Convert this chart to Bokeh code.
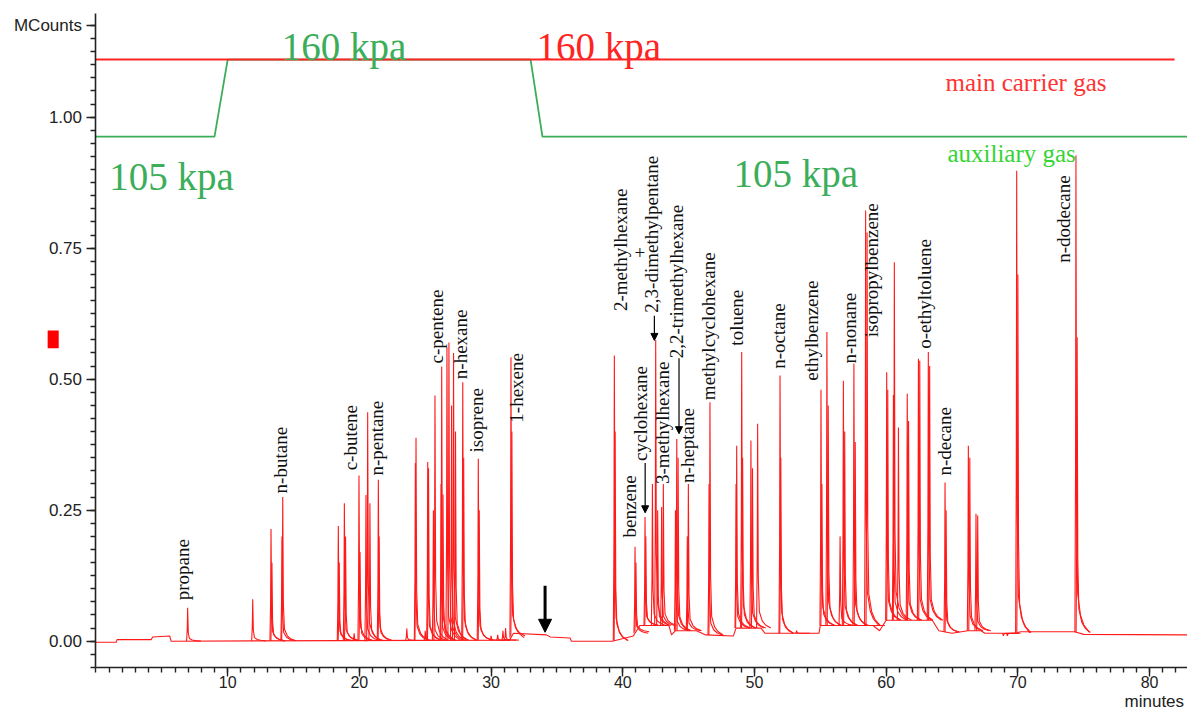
import numpy as np
from bokeh.plotting import figure
from bokeh.models import (Range1d, FixedTicker, NumeralTickFormatter, Label, Arrow,
                          NormalHead, ColumnDataSource)
from bokeh.core.properties import value
from bokeh.embed import file_html
from bokeh.resources import INLINE

# ---------------- data ----------------
peak_time = [6.96, 11.9, 13.29, 13.36, 14.12, 14.18, 18.4, 18.47, 18.86, 18.95, 19.6,
             19.97, 20.05, 20.5, 20.63, 20.8, 21.44, 21.5, 23.6, 24.25, 24.3, 25.0,
             25.19, 25.25, 25.62, 25.74, 26.2, 26.25, 26.35, 26.65, 26.8, 27.0, 27.15,
             27.3, 27.85, 27.92, 29.03, 29.1, 30.0, 30.5, 30.9, 31.1, 31.51, 31.58,
             39.36, 39.42, 40.93, 41.0, 41.69, 41.75, 42.25, 42.5, 42.65, 42.95, 43.08,
             44.0, 44.1, 44.2, 44.9, 44.98, 46.55, 46.62, 48.6, 48.65, 49.03, 49.1,
             49.73, 49.85, 50.24, 51.94, 52.0, 53.2, 55.05, 55.12, 55.5, 55.6, 56.5,
             56.75, 56.85, 57.55, 57.65, 58.44, 58.55, 58.9, 60.04, 60.12, 60.55, 60.62,
             60.93, 61.6, 61.7, 62.45, 62.55, 63.2, 63.3, 64.47, 64.55, 66.24, 66.35,
             66.82, 66.95, 68.9, 69.2, 69.91, 70.0, 74.41, 74.5]
peak_height = [0.064, 0.08, 0.214, 0.15, 0.2, 0.275, 0.22, 0.15, 0.263, 0.2, 0.015,
               0.316, 0.17, 0.279, 0.437, 0.263, 0.308, 0.2, 0.024, 0.34, 0.388, 0.02,
               0.342, 0.33, 0.25, 0.469, 0.3, 0.524, 0.28, 0.56, 0.57, 0.45, 0.55,
               0.40, 0.494, 0.35, 0.348, 0.25, 0.01, 0.012, 0.02, 0.025, 0.542, 0.4,
               0.545, 0.4, 0.18, 0.15, 0.237, 0.2, 0.30, 0.575, 0.25, 0.256, 0.30,
               0.25, 0.386, 0.35, 0.2, 0.30, 0.3, 0.456, 0.3, 0.373, 0.552, 0.35,
               0.383, 0.33, 0.415, 0.507, 0.35, 0.02, 0.48, 0.3, 0.59, 0.45, 0.2,
               0.497, 0.4, 0.53, 0.38, 0.822, 0.78, 0.03, 0.513, 0.48, 0.47, 0.723,
               0.408, 0.472, 0.42, 0.539, 0.535, 0.552, 0.525, 0.303, 0.25, 0.373, 0.35,
               0.243, 0.24, 0.01, 0.01, 0.898, 0.7, 0.927, 0.58]

base_time = [0, 1.55, 1.6, 4.2, 4.3, 5.6, 5.7, 31.4, 31.7, 34.2, 34.5, 36.0, 36.1, 39.2,
             40.8, 41.3, 43.5, 43.7, 44.0, 45.6, 46.3, 48.4, 48.6, 50.5, 50.8, 54.9,
             55.0, 59.0, 59.5, 60.0, 63.5, 64.0, 65.0, 66.2, 67.2, 67.5, 69.8, 70.2,
             74.3, 75.0, 82.9]
base_level = [-0.002, -0.002, 0.003, 0.003, 0.008, 0.01, 0.0, 0.002, 0.015, 0.012, 0.008,
              0.006, 0.0, 0.0, 0.01, 0.03, 0.03, 0.012, 0.02, 0.02, 0.012, 0.01, 0.025,
              0.025, 0.015, 0.015, 0.03, 0.03, 0.02, 0.04, 0.04, 0.02, 0.015, 0.02, 0.02,
              0.015, 0.015, 0.018, 0.018, 0.013, 0.012]

label_text = ["propane", "n-butane", "c-butene", "n-pentane", "c-pentene", "n-hexane",
              "isoprene", "1-hexene", "2-methylhexane", "2,3-dimethylpentane",
              "cyclohexane", "benzene", "3-methylhexane", "2,2-trimethylhexane",
              "n-heptane", "methylcyclohexane", "toluene", "n-octane", "ethylbenzene",
              "n-nonane", "isopropylbenzene", "o-ethyltoluene", "n-decane", "n-dodecane"]
label_time = [6.59, 14.03, 19.3, 21.3, 25.85, 27.65, 28.9, 31.9, 39.8, 42.2, 41.35, 40.5,
              43.0, 44.05, 44.9, 46.5, 48.6, 51.8, 54.3, 57.2, 58.9, 62.9, 64.4, 73.5]
label_level = [0.078, 0.282, 0.326, 0.316, 0.53, 0.50, 0.36, 0.417, 0.63, 0.627, 0.344,
               0.198, 0.30, 0.54, 0.302, 0.46, 0.564, 0.52, 0.497, 0.53, 0.58, 0.558,
               0.316, 0.722]

arrow_time = [41.7, 42.4, 44.27]
arrow_from = [0.34, 0.621, 0.54]
arrow_to = [0.245, 0.574, 0.396]

carrier_time = [0, 81.9]
carrier_level = [1.11, 1.11]
aux_time = [0, 9.0, 10.0, 33.0, 33.9, 82.9]
aux_level = [0.963, 0.963, 1.11, 1.11, 0.963, 0.963]

x_ticks = [10, 20, 30, 40, 50, 60, 70, 80]
y_ticks = [0.0, 0.25, 0.5, 0.75, 1.0, 1.175]
y_tick_text = {1.175: "MCounts"}

marker_x = [-3.25]
marker_y = [0.576]

# ---------------- figure ----------------
p = figure(width=1187, height=710, output_backend="svg", toolbar_location=None,
           x_range=Range1d(-7.25, 82.88), y_range=Range1d(-0.1323, 1.2227),
           min_border=0, min_border_left=0, min_border_right=0,
           min_border_top=0, min_border_bottom=0)
p.outline_line_color = None
p.xgrid.visible = False
p.ygrid.visible = False
p.background_fill_color = "white"
p.border_fill_color = "white"

for ax in (p.xaxis[0], p.yaxis[0]):
    ax.axis_line_color = "#222222"
    ax.axis_line_width = 1.6
    ax.major_tick_line_color = "#222222"
    ax.minor_tick_line_color = "#222222"
    ax.major_tick_line_width = 1.4
    ax.minor_tick_line_width = 1.4
    ax.major_tick_in = 0
    ax.minor_tick_in = 0
    ax.major_tick_out = 9
    ax.minor_tick_out = 5
    ax.major_label_text_font = "Liberation Sans"
    ax.major_label_text_color = "#222222"

xa = p.xaxis[0]
xa.fixed_location = -0.0496
xa.bounds = (0, 82.88)
xa.ticker = FixedTicker(ticks=x_ticks, minor_ticks=list(range(0, 83)))
xa.major_label_standoff = 0
xa.major_label_text_font_size = "16px"

ya = p.yaxis[0]
ya.fixed_location = 0
ya.bounds = (-0.0496, 1.198)
ya.ticker = FixedTicker(ticks=y_ticks,
                        minor_ticks=[round(-0.05 + 0.025 * i, 3) for i in range(50)])
ya.formatter = NumeralTickFormatter(format="0.00")
ya.major_label_overrides = y_tick_text
ya.major_label_standoff = 5
ya.major_label_text_font_size = "17px"

# pressure program lines
p.line(aux_time, aux_level, line_color="#3cae5a", line_width=1.8)
p.line(carrier_time, carrier_level, line_color="#ff2424", line_width=2)

# chromatogram: baseline plus peaks
p.line(base_time, base_level, line_color="#ff1a1a", line_width=1.1)
shape_dt = np.array([-0.08, -0.03, 0.0, 0.025, 0.05, 0.13, 0.35, 0.6, 1.0])
shape_f = np.array([0.0, 0.35, 1.0, 0.6, 0.25, 0.08, 0.035, 0.015, 0.0])
xs, ys = [], []
for t, h in zip(peak_time, peak_height):
    b = float(np.interp(t, base_time, base_level))
    xs.append(list(t + shape_dt))
    ys.append(list(b + shape_f * (h - b)))
p.multi_line(xs, ys, line_color="#ff1a1a", line_width=1.1)

# peak labels
src = ColumnDataSource(dict(x=label_time, y=label_level, text=label_text))
p.text(x="x", y="y", text="text", source=src, angle=np.pi / 2,
       text_font=value("Liberation Serif"), text_font_size="19px",
       text_align="left", text_baseline="middle", text_color="#111111")
p.add_layout(Label(x=41.3, y=0.742, text="+", text_font="Liberation Serif",
                   text_font_size="19px", text_align="center", text_baseline="middle",
                   text_color="#111111"))

for xa_, y0, y1 in zip(arrow_time, arrow_from, arrow_to):
    p.add_layout(Arrow(end=NormalHead(size=7, fill_color="black", line_color="black"),
                       x_start=xa_, y_start=y0, x_end=xa_, y_end=y1,
                       line_color="black", line_width=1.2))
p.add_layout(Arrow(end=NormalHead(size=13, fill_color="black", line_color="black"),
                   x_start=34.1, y_start=0.106, x_end=34.1, y_end=0.017,
                   line_color="black", line_width=3))

# pressure texts
green = "#3cae5a"
for tx, xx, yy, col in [("105 kpa", 1.0, 0.887, green), ("160 kpa", 14.1, 1.134, green),
                        ("160 kpa", 33.45, 1.134, "#ff2424"), ("105 kpa", 48.4, 0.893, green)]:
    p.add_layout(Label(x=xx, y=yy, text=tx, text_font="Liberation Serif",
                       text_font_size="39px", text_color=col, text_align="left",
                       text_baseline="alphabetic"))
p.add_layout(Label(x=64.5, y=1.067, text="main carrier gas", text_font="Liberation Serif",
                   text_font_size="25px", text_color="#ff3333", text_baseline="alphabetic"))
p.add_layout(Label(x=64.65, y=0.93, text="auxiliary gas", text_font="Liberation Serif",
                   text_font_size="25px", text_color="#33d433", text_baseline="alphabetic"))

# x axis caption
p.add_layout(Label(x=78.1, y=-0.115, text="minutes", text_font="Liberation Sans",
                   text_font_size="17px", text_color="#222222", text_align="left",
                   text_baseline="middle"))

# red marker left of the axis
p.rect(x=marker_x, y=marker_y, width=0.84, height=0.034, fill_color="#ff0000",
       line_color=None)

open("out.html", "w").write(file_html(p, INLINE))
